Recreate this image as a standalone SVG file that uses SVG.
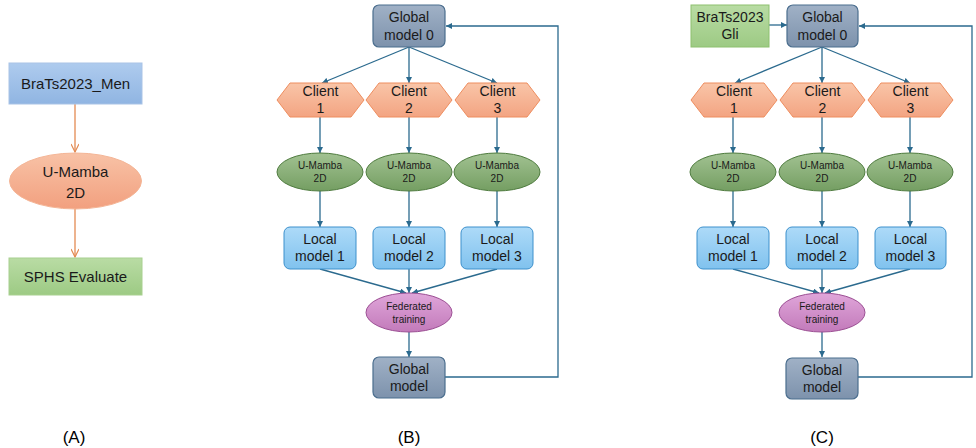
<svg xmlns="http://www.w3.org/2000/svg" width="976" height="448" viewBox="0 0 976 448">
<defs>
<style>
text{font-family:"Liberation Sans","Open Sans",Arial,sans-serif;text-anchor:middle;fill:#1a1a1a}
.t14{font-size:14px}.t15{font-size:15px}.t10{font-size:10px}.lab{font-size:17px;fill:#000}
.con{fill:none;stroke:#2B6A8E;stroke-width:1.3}
.cona{fill:none;stroke:#E38A52;stroke-width:1.3}
.glob{fill:url(#gGlob);stroke:#4B6E8E;stroke-width:1.2}
.cli{fill:url(#gCli);stroke:#EE8D5E;stroke-width:1}
.mam{fill:url(#gMam);stroke:#4E7B3E;stroke-width:1}
.loc{fill:url(#gLoc);stroke:#3C90CC;stroke-width:1}
.fed{fill:url(#gFed);stroke:#9B4E93;stroke-width:1}
</style>
<linearGradient id="gGlob" x1="0" y1="0" x2="0" y2="1"><stop offset="0" stop-color="#A0B1C6"/><stop offset="1" stop-color="#7D92AC"/></linearGradient>
<linearGradient id="gCli" x1="0" y1="0" x2="0" y2="1"><stop offset="0" stop-color="#F9C5A8"/><stop offset="1" stop-color="#F3A482"/></linearGradient>
<linearGradient id="gMam" x1="0" y1="0" x2="0" y2="1"><stop offset="0" stop-color="#A2C292"/><stop offset="1" stop-color="#749E62"/></linearGradient>
<linearGradient id="gLoc" x1="0" y1="0" x2="0" y2="1"><stop offset="0" stop-color="#ADDAF8"/><stop offset="1" stop-color="#80C2EE"/></linearGradient>
<linearGradient id="gFed" x1="0" y1="0" x2="0" y2="1"><stop offset="0" stop-color="#E0A6DA"/><stop offset="1" stop-color="#C27ABA"/></linearGradient>
<linearGradient id="gBlueA" x1="0" y1="0" x2="0" y2="1"><stop offset="0" stop-color="#AECBEE"/><stop offset="1" stop-color="#90B5E2"/></linearGradient>
<linearGradient id="gOrA" x1="0" y1="0" x2="0" y2="1"><stop offset="0" stop-color="#F8C2A6"/><stop offset="1" stop-color="#F2A07F"/></linearGradient>
<linearGradient id="gGrA" x1="0" y1="0" x2="0" y2="1"><stop offset="0" stop-color="#B9DCA4"/><stop offset="1" stop-color="#9DCA84"/></linearGradient>
<marker id="ah" viewBox="0 0 10 10" refX="10" refY="5" markerWidth="6" markerHeight="6" markerUnits="userSpaceOnUse" orient="auto"><path d="M0,0 L10,5 L0,10 z" fill="#2B6A8E"/></marker>
<marker id="aho" viewBox="0 0 10 10" refX="10" refY="5" markerWidth="10" markerHeight="8" markerUnits="userSpaceOnUse" orient="auto"><path d="M0,0 L10,5 L0,10" fill="none" stroke="#E38A52" stroke-width="1.5"/></marker>
</defs>
<rect width="976" height="448" fill="#fff"/>

<!-- connectors -->
<g id="connectors">
<path class="cona" d="M75,104 V152" marker-end="url(#aho)"/>
<path class="cona" d="M75,209 V257" marker-end="url(#aho)"/>

<path class="con" d="M409,47 L322,83" marker-end="url(#ah)"/>
<path class="con" d="M409,47 V83" marker-end="url(#ah)"/>
<path class="con" d="M409,47 L497,83" marker-end="url(#ah)"/>
<path class="con" d="M320,117 V153" marker-end="url(#ah)"/>
<path class="con" d="M409,117 V153" marker-end="url(#ah)"/>
<path class="con" d="M497,117 V153" marker-end="url(#ah)"/>
<path class="con" d="M320,191 V227" marker-end="url(#ah)"/>
<path class="con" d="M409,191 V227" marker-end="url(#ah)"/>
<path class="con" d="M497,191 V227" marker-end="url(#ah)"/>
<path class="con" d="M320,269 L406,293" marker-end="url(#ah)"/>
<path class="con" d="M409,269 V293" marker-end="url(#ah)"/>
<path class="con" d="M497,269 L412,293" marker-end="url(#ah)"/>
<path class="con" d="M409,332 V357" marker-end="url(#ah)"/>
<path class="con" d="M445,377 H558 V26 H446" marker-end="url(#ah)"/>

<path class="con" d="M769,25 H787" marker-end="url(#ah)"/>
<path class="con" d="M822,47 L735,83" marker-end="url(#ah)"/>
<path class="con" d="M822,47 V83" marker-end="url(#ah)"/>
<path class="con" d="M822,47 L910,83" marker-end="url(#ah)"/>
<path class="con" d="M733,117 V153" marker-end="url(#ah)"/>
<path class="con" d="M822,117 V153" marker-end="url(#ah)"/>
<path class="con" d="M910,117 V153" marker-end="url(#ah)"/>
<path class="con" d="M733,191 V227" marker-end="url(#ah)"/>
<path class="con" d="M822,191 V227" marker-end="url(#ah)"/>
<path class="con" d="M910,191 V227" marker-end="url(#ah)"/>
<path class="con" d="M733,269 L819,293" marker-end="url(#ah)"/>
<path class="con" d="M822,269 V293" marker-end="url(#ah)"/>
<path class="con" d="M910,269 L825,293" marker-end="url(#ah)"/>
<path class="con" d="M822,332 V357" marker-end="url(#ah)"/>
<path class="con" d="M858,377 H972 V26 H859" marker-end="url(#ah)"/>
</g>

<!-- Panel A -->
<g id="a-brats"><rect x="9" y="63" width="133" height="41" fill="url(#gBlueA)" stroke="#A9C3E6" stroke-width="1"/><text class="t15" x="75.5" y="88.5">BraTs2023_Men</text></g>
<g id="a-umamba"><ellipse cx="75.5" cy="181" rx="66" ry="28" fill="url(#gOrA)" stroke="#F4B596" stroke-width="1"/><text class="t15" x="75.5" y="177">U-Mamba</text><text class="t15" x="75.5" y="198">2D</text></g>
<g id="a-sphs"><rect x="9" y="258" width="133" height="37" fill="url(#gGrA)" stroke="#A8D08F" stroke-width="1"/><text class="t15" x="75.5" y="282">SPHS Evaluate</text></g>

<!-- Panel B -->
<g id="b-global0"><rect class="glob" x="373" y="5" width="72" height="42" rx="6"/><text class="t14" x="409" y="22">Global</text><text class="t14" x="409" y="40">model 0</text></g>
<g id="b-client1"><polygon class="cli" points="277,100 290,83 351,83 364,100 351,117 290,117"/><text class="t14" x="320.5" y="96">Client</text><text class="t14" x="320.5" y="113">1</text></g>
<g id="b-client2"><polygon class="cli" points="366,100 379,83 439,83 452,100 439,117 379,117"/><text class="t14" x="409" y="96">Client</text><text class="t14" x="409" y="113">2</text></g>
<g id="b-client3"><polygon class="cli" points="455,100 468,83 527,83 540,100 527,117 468,117"/><text class="t14" x="497.5" y="96">Client</text><text class="t14" x="497.5" y="113">3</text></g>
<g id="b-mamba1"><ellipse class="mam" cx="320" cy="172" rx="43" ry="19"/><text class="t10" x="320" y="169">U-Mamba</text><text class="t10" x="320" y="182">2D</text></g>
<g id="b-mamba2"><ellipse class="mam" cx="409" cy="172" rx="43" ry="19"/><text class="t10" x="409" y="169">U-Mamba</text><text class="t10" x="409" y="182">2D</text></g>
<g id="b-mamba3"><ellipse class="mam" cx="497" cy="172" rx="43" ry="19"/><text class="t10" x="497" y="169">U-Mamba</text><text class="t10" x="497" y="182">2D</text></g>
<g id="b-local1"><rect class="loc" x="284" y="227" width="72" height="42" rx="6"/><text class="t14" x="320" y="244">Local</text><text class="t14" x="320" y="261">model 1</text></g>
<g id="b-local2"><rect class="loc" x="373" y="227" width="72" height="42" rx="6"/><text class="t14" x="409" y="244">Local</text><text class="t14" x="409" y="261">model 2</text></g>
<g id="b-local3"><rect class="loc" x="461" y="227" width="72" height="42" rx="6"/><text class="t14" x="497" y="244">Local</text><text class="t14" x="497" y="261">model 3</text></g>
<g id="b-fed"><ellipse class="fed" cx="409" cy="312.5" rx="43" ry="19.5"/><text class="t10" x="409" y="309.5">Federated</text><text class="t10" x="409" y="322.5">training</text></g>
<g id="b-global"><rect class="glob" x="373" y="357" width="72" height="41" rx="6"/><text class="t14" x="409" y="374">Global</text><text class="t14" x="409" y="391">model</text></g>

<!-- Panel C -->
<g id="c-brats"><rect x="691" y="5" width="78" height="42" fill="url(#gGrA)" stroke="#8DC06F" stroke-width="1"/><text class="t14" x="730" y="22">BraTs2023</text><text class="t14" x="730" y="39">Gli</text></g>
<g id="c-global0"><rect class="glob" x="787" y="5" width="71" height="42" rx="6"/><text class="t14" x="822.5" y="22">Global</text><text class="t14" x="822.5" y="40">model 0</text></g>
<g id="c-client1"><polygon class="cli" points="691,100 704,83 764,83 777,100 764,117 704,117"/><text class="t14" x="734" y="96">Client</text><text class="t14" x="734" y="113">1</text></g>
<g id="c-client2"><polygon class="cli" points="780,100 793,83 852,83 865,100 852,117 793,117"/><text class="t14" x="822.5" y="96">Client</text><text class="t14" x="822.5" y="113">2</text></g>
<g id="c-client3"><polygon class="cli" points="868,100 881,83 940,83 953,100 940,117 881,117"/><text class="t14" x="910.5" y="96">Client</text><text class="t14" x="910.5" y="113">3</text></g>
<g id="c-mamba1"><ellipse class="mam" cx="733" cy="172" rx="43" ry="19"/><text class="t10" x="733" y="169">U-Mamba</text><text class="t10" x="733" y="182">2D</text></g>
<g id="c-mamba2"><ellipse class="mam" cx="822" cy="172" rx="43" ry="19"/><text class="t10" x="822" y="169">U-Mamba</text><text class="t10" x="822" y="182">2D</text></g>
<g id="c-mamba3"><ellipse class="mam" cx="910" cy="172" rx="43" ry="19"/><text class="t10" x="910" y="169">U-Mamba</text><text class="t10" x="910" y="182">2D</text></g>
<g id="c-local1"><rect class="loc" x="697" y="227" width="72" height="42" rx="6"/><text class="t14" x="733" y="244">Local</text><text class="t14" x="733" y="261">model 1</text></g>
<g id="c-local2"><rect class="loc" x="786" y="227" width="72" height="42" rx="6"/><text class="t14" x="822" y="244">Local</text><text class="t14" x="822" y="261">model 2</text></g>
<g id="c-local3"><rect class="loc" x="875" y="227" width="71" height="42" rx="6"/><text class="t14" x="910.5" y="244">Local</text><text class="t14" x="910.5" y="261">model 3</text></g>
<g id="c-fed"><ellipse class="fed" cx="822" cy="312.5" rx="43" ry="19.5"/><text class="t10" x="822" y="309.5">Federated</text><text class="t10" x="822" y="322.5">training</text></g>
<g id="c-global"><rect class="glob" x="786" y="358" width="72" height="41" rx="6"/><text class="t14" x="822" y="375">Global</text><text class="t14" x="822" y="392">model</text></g>

<text class="lab" x="74" y="443">(A)</text>
<text class="lab" x="409" y="443">(B)</text>
<text class="lab" x="822" y="443">(C)</text>
</svg>
